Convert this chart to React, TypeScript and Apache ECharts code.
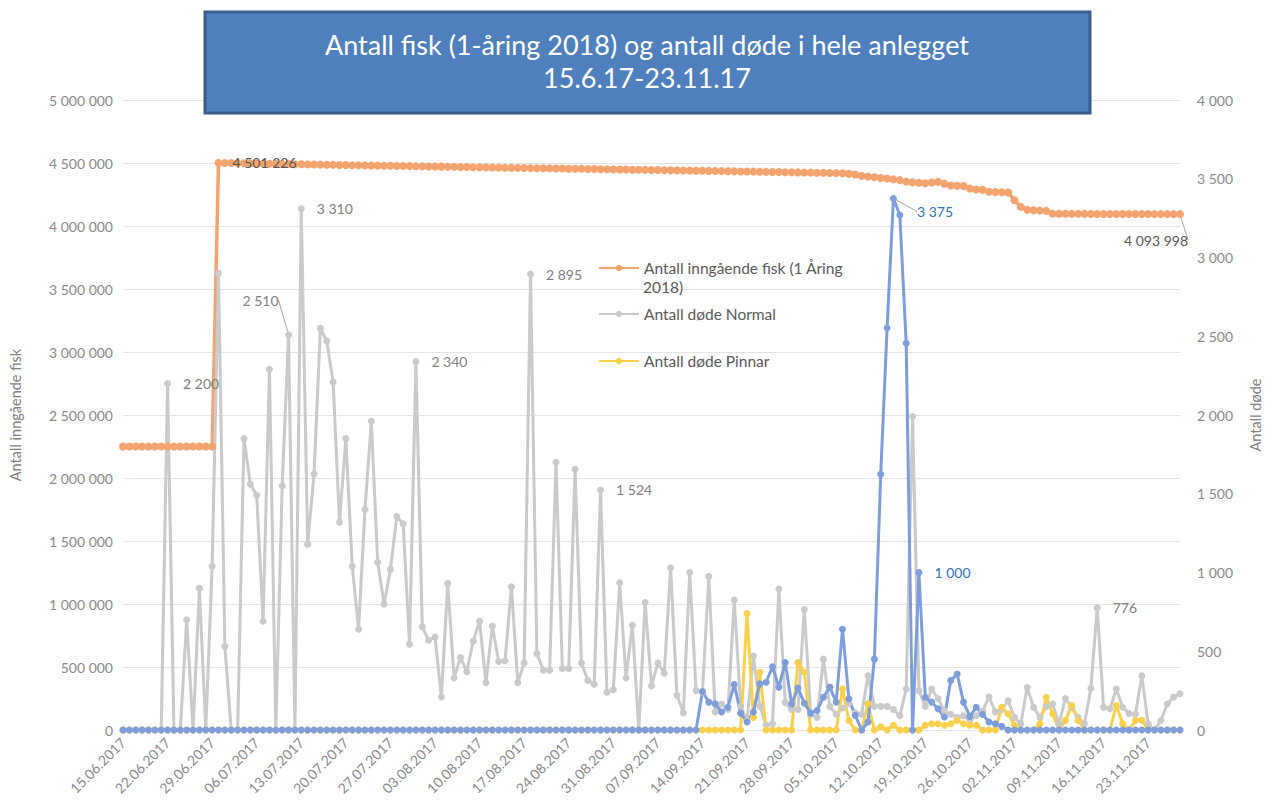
import React, { useEffect, useRef } from "react";
import * as echarts from "echarts";

// ---------- data ----------
const START_YEAR = 2017;
const START_MONTH = 5; // June (0-based)
const START_DAY = 15;
const DAY_COUNT = 167;

const TITLE_LINE_1 = "Antall fisk (1-åring 2018) og antall døde i hele anlegget";
const TITLE_LINE_2 = "15.6.17-23.11.17";
const NAME_FISH = "Antall inngående fisk (1 Åring 2018)";
const NAME_NORMAL = "Antall døde Normal";
const NAME_PINNAR = "Antall døde Pinnar";
const NAME_OTHER = "Antall døde";
const LEFT_AXIS_NAME = "Antall inngående fisk";
const RIGHT_AXIS_NAME = "Antall døde";

// Antall inngående fisk (left axis)
const fishCount: number[] = [
  2250000, 2250000, 2250000, 2250000, 2250000, 2250000, 2250000, 2250000, 2250000, 2250000,
  2250000, 2250000, 2250000, 2250000, 2250000, 4501226, 4500200, 4499300, 4498500, 4497600,
  4496800, 4495900, 4495000, 4494100, 4493300, 4492400, 4491500, 4490700, 4489800, 4488900,
  4488000, 4487200, 4486300, 4485400, 4484600, 4483700, 4482800, 4481900, 4481100, 4480200,
  4479300, 4478400, 4477600, 4476700, 4475900, 4475100, 4474200, 4473400, 4472600, 4471800,
  4470900, 4470100, 4469300, 4468500, 4467600, 4466800, 4466000, 4465200, 4464300, 4463500,
  4462700, 4461900, 4461100, 4460400, 4459600, 4458800, 4458000, 4457200, 4456400, 4455700,
  4454900, 4454100, 4453300, 4452500, 4451700, 4451000, 4450200, 4449400, 4448600, 4447800,
  4447000, 4446200, 4445400, 4444600, 4443800, 4443000, 4442100, 4441300, 4440500, 4439700,
  4438800, 4438000, 4437200, 4436300, 4435500, 4434700, 4433800, 4433000, 4432100, 4431300,
  4430400, 4429600, 4428700, 4427900, 4427000, 4426100, 4425300, 4424400, 4423500, 4422600,
  4421700, 4420800, 4419900, 4418000, 4414000, 4409000, 4398000, 4392000, 4388000, 4381000,
  4377000, 4370000, 4364000, 4352000, 4346000, 4343000, 4339000, 4345000, 4350000, 4336000,
  4322000, 4320000, 4318000, 4298000, 4290000, 4287000, 4272000, 4270000, 4268000, 4266000,
  4205000, 4152000, 4128000, 4125000, 4122000, 4120000, 4098000, 4097000, 4096800, 4096500,
  4096300, 4096000, 4095800, 4095600, 4095400, 4095200, 4095000, 4094900, 4094800, 4094700,
  4094600, 4094500, 4094400, 4094300, 4094200, 4094100, 4093998,
];

// Antall døde Normal (right axis)
const deadNormal: number[] = [
  0, 0, 0, 0, 0, 0, 0, 2200, 0, 0,
  700, 0, 900, 0, 1040, 2900, 530, 0, 0, 1850,
  1560, 1490, 690, 2290, 0, 1550, 2510, 0, 3310, 1180,
  1625, 2550, 2470, 2210, 1320, 1850, 1040, 640, 1400, 1960,
  1065, 800, 1020, 1355, 1310, 545, 2340, 655, 570, 590,
  210, 930, 330, 460, 370, 565, 690, 300, 660, 435,
  440, 910, 300, 425, 2895, 485, 380, 380, 1700, 390,
  390, 1655, 425, 315, 290, 1524, 240, 255, 935, 330,
  665, 0, 810, 280, 425, 360, 1030, 220, 110, 1000,
  250, 240, 975, 115, 165, 130, 825, 150, 60, 470,
  150, 30, 40, 895, 175, 130, 130, 765, 100, 80,
  450, 150, 100, 140, 170, 110, 100, 345, 150, 150,
  150, 130, 90, 260, 1990, 250, 150, 260, 200, 120,
  100, 80, 90, 60, 90, 120, 210, 115, 130, 185,
  80, 40, 270, 145, 80, 150, 165, 40, 200, 145,
  80, 40, 265, 776, 145, 135, 260, 145, 105, 100,
  345, 40, 0, 60, 165, 210, 230,
];

// Antall døde Pinnar (right axis)
const deadPinnar: number[] = [
  0, 0, 0, 0, 0, 0, 0, 0, 0, 0,
  0, 0, 0, 0, 0, 0, 0, 0, 0, 0,
  0, 0, 0, 0, 0, 0, 0, 0, 0, 0,
  0, 0, 0, 0, 0, 0, 0, 0, 0, 0,
  0, 0, 0, 0, 0, 0, 0, 0, 0, 0,
  0, 0, 0, 0, 0, 0, 0, 0, 0, 0,
  0, 0, 0, 0, 0, 0, 0, 0, 0, 0,
  0, 0, 0, 0, 0, 0, 0, 0, 0, 0,
  0, 0, 0, 0, 0, 0, 0, 0, 0, 0,
  0, 0, 0, 0, 0, 0, 0, 0, 739, 80,
  366, 0, 0, 0, 0, 0, 429, 366, 0, 0,
  0, 0, 0, 261, 60, 0, 0, 166, 0, 20,
  0, 30, 0, 0, 0, 0, 30, 40, 40, 30,
  40, 61, 40, 30, 30, 0, 0, 0, 145, 103,
  30, 0, 0, 0, 40, 208, 103, 0, 61, 156,
  61, 0, 0, 0, 0, 0, 156, 40, 0, 61,
  61, 0, 0, 0, 0, 0, 0,
];

// Antall døde (blue series, right axis)
const deadOther: number[] = [
  0, 0, 0, 0, 0, 0, 0, 0, 0, 0,
  0, 0, 0, 0, 0, 0, 0, 0, 0, 0,
  0, 0, 0, 0, 0, 0, 0, 0, 0, 0,
  0, 0, 0, 0, 0, 0, 0, 0, 0, 0,
  0, 0, 0, 0, 0, 0, 0, 0, 0, 0,
  0, 0, 0, 0, 0, 0, 0, 0, 0, 0,
  0, 0, 0, 0, 0, 0, 0, 0, 0, 0,
  0, 0, 0, 0, 0, 0, 0, 0, 0, 0,
  0, 0, 0, 0, 0, 0, 0, 0, 0, 0,
  0, 244, 177, 166, 114, 145, 288, 107, 51, 114,
  293, 303, 402, 272, 429, 166, 267, 170, 107, 124,
  208, 272, 177, 640, 198, 93, 0, 51, 450, 1624,
  2552, 3375, 3270, 2456, 0, 1000, 208, 177, 135, 82,
  314, 356, 177, 86, 145, 99, 51, 40, 23, 0,
  0, 0, 0, 0, 0, 0, 0, 0, 0, 0,
  0, 0, 0, 0, 0, 0, 0, 0, 0, 0,
  0, 0, 0, 0, 0, 0, 0,
];

// data-label indices
const FISH_LABELS = [15, 166];
const NORMAL_LABELS = [7, 26, 28, 46, 64, 75, 153];
const OTHER_LABELS = [121, 125];

// ---------- helpers ----------
function buildDates(): string[] {
  const out: string[] = [];
  for (let i = 0; i < DAY_COUNT; i++) {
    const d = new Date(Date.UTC(START_YEAR, START_MONTH, START_DAY + i));
    const dd = String(d.getUTCDate()).padStart(2, "0");
    const mm = String(d.getUTCMonth() + 1).padStart(2, "0");
    out.push(`${dd}.${mm}.${d.getUTCFullYear()}`);
  }
  return out;
}

const fmt = (n: number) => String(Math.round(n)).replace(/\B(?=(\d{3})+(?!\d))/g, " ");

const FONT = "Lato";
const ORANGE = "#F3A46E";
const GRAY = "#CACACA";
const YELLOW = "#F9D04C";
const BLUE = "#7E9EDB";

function withLabels(values: number[], idx: number[], labelStyle: any, extra: Record<number, any> = {}) {
  return values.map((v, i) => {
    if (!idx.includes(i)) return v;
    const ex = extra[i] || {};
    const { __line, ...rest } = ex;
    return {
      value: v,
      label: { show: true, ...labelStyle, ...rest },
      ...(__line ? { labelLine: { show: true, lineStyle: { color: "#a6a6a6", width: 1 } } } : {}),
    };
  });
}

export default function App() {
  const ref = useRef<HTMLDivElement>(null);

  useEffect(() => {
    if (!ref.current) return;
    const chart = echarts.init(ref.current, undefined, { renderer: "svg", width: 1271, height: 812 });
    const dates = buildDates();

    const baseLabel = {
      position: "right",
      distance: 12,
      fontFamily: FONT,
      fontSize: 14,
      color: "#808080",
      formatter: (p: any) => fmt(p.value),
    };

    const lineCommon = {
      type: "line",
      symbol: "circle",
      symbolSize: 7,
      showSymbol: true,
      showAllSymbol: true,
      lineStyle: { width: 3 },
      emphasis: { disabled: true },
      animation: false,
    };

    const legendText = { color: "#595959", fontSize: 15.5, fontFamily: FONT };

    const option: any = {
      animation: false,
      backgroundColor: "#ffffff",
      textStyle: { fontFamily: FONT },
      grid: { left: 118, right: 71, top: 100, bottom: 82, containLabel: false },
      legend: [
        {
          data: [NAME_FISH],
          left: 598,
          top: 260,
          padding: 0,
          itemWidth: 40,
          itemHeight: 8,
          formatter: () => "Antall inngående fisk (1 Åring",
          textStyle: legendText,
        },
        {
          data: [NAME_NORMAL],
          left: 598,
          top: 306,
          padding: 0,
          itemWidth: 40,
          itemHeight: 8,
          textStyle: legendText,
        },
        {
          data: [NAME_PINNAR],
          left: 598,
          top: 353,
          padding: 0,
          itemWidth: 40,
          itemHeight: 8,
          textStyle: legendText,
        },
      ],
      xAxis: {
        type: "category",
        data: dates,
        boundaryGap: false,
        axisLine: { show: false },
        axisTick: { show: false },
        axisLabel: {
          interval: 6,
          rotate: 45,
          margin: 10,
          color: "#8a8a8a",
          fontSize: 14,
          fontFamily: FONT,
        },
        splitLine: { show: false },
      },
      yAxis: [
        {
          type: "value",
          min: 0,
          max: 5000000,
          interval: 500000,
          position: "left",
          name: LEFT_AXIS_NAME,
          nameLocation: "middle",
          nameGap: 100,
          nameRotate: 90,
          nameTextStyle: { color: "#7f7f7f", fontSize: 14.5, fontFamily: FONT },
          axisLine: { show: false },
          axisTick: { show: false },
          axisLabel: {
            formatter: (v: number) => fmt(v),
            color: "#8a8a8a",
            fontSize: 14,
            fontFamily: FONT,
            margin: 10,
          },
          splitLine: { show: true, lineStyle: { color: "#e4e4e4", width: 1 } },
        },
        {
          type: "value",
          min: 0,
          max: 4000,
          interval: 500,
          position: "right",
          name: RIGHT_AXIS_NAME,
          nameLocation: "middle",
          nameGap: 68,
          nameRotate: 90,
          nameTextStyle: { color: "#7f7f7f", fontSize: 14.5, fontFamily: FONT },
          axisLine: { show: false },
          axisTick: { show: false },
          axisLabel: {
            formatter: (v: number) => fmt(v),
            color: "#8a8a8a",
            fontSize: 14,
            fontFamily: FONT,
            margin: 17,
          },
          splitLine: { show: false },
        },
      ],
      series: [
        {
          ...lineCommon,
          name: NAME_FISH,
          yAxisIndex: 0,
          color: ORANGE,
          symbolSize: 8,
          itemStyle: { color: ORANGE },
          lineStyle: { width: 3.5, color: ORANGE },
          data: withLabels(fishCount, FISH_LABELS, { ...baseLabel, color: "#555555", distance: 10 }, {
            166: { position: "bottom", __line: true },
          }),
          labelLayout: (p: any) => (p.dataIndex === 166 ? { dx: -24, dy: 5 } : {}),
        },
        {
          ...lineCommon,
          name: NAME_NORMAL,
          yAxisIndex: 1,
          color: GRAY,
          itemStyle: { color: GRAY },
          lineStyle: { width: 3, color: GRAY },
          data: withLabels(deadNormal, NORMAL_LABELS, baseLabel, {
            26: { position: "top", __line: true },
          }),
          labelLayout: (p: any) => (p.dataIndex === 26 ? { dx: -28, dy: -12 } : {}),
        },
        {
          ...lineCommon,
          name: NAME_PINNAR,
          yAxisIndex: 1,
          color: YELLOW,
          itemStyle: { color: YELLOW },
          lineStyle: { width: 3, color: YELLOW },
          data: deadPinnar,
        },
        {
          ...lineCommon,
          name: NAME_OTHER,
          yAxisIndex: 1,
          color: BLUE,
          itemStyle: { color: BLUE },
          lineStyle: { width: 3, color: BLUE },
          data: withLabels(deadOther, OTHER_LABELS, { ...baseLabel, color: "#2E75B6" }, {
            121: { __line: true },
          }),
          labelLayout: (p: any) => (p.dataIndex === 121 ? { dx: 8, dy: 13 } : {}),
        },
      ],
      graphic: [
        {
          type: "rect",
          shape: { x: 205, y: 12, width: 885, height: 101 },
          style: { fill: "#4F80BD", stroke: "#3A5E8C", lineWidth: 3 },
          z: 10,
        },
        {
          type: "text",
          x: 647,
          y: 61,
          z: 11,
          style: {
            text: TITLE_LINE_1 + "\n" + TITLE_LINE_2,
            fill: "#ffffff",
            font: `27px ${FONT}`,
            lineHeight: 33,
            align: "center",
            verticalAlign: "middle",
          },
        },
        {
          type: "text",
          x: 643,
          y: 287,
          z: 11,
          style: {
            text: "2018)",
            fill: "#595959",
            font: `15.5px ${FONT}`,
            align: "left",
            verticalAlign: "middle",
          },
        },
      ],
    };

    chart.setOption(option);
    return () => chart.dispose();
  }, []);

  return (
    <div
      ref={ref}
      style={{ position: "fixed", left: 0, top: 0, width: 1271, height: 812, background: "#fff" }}
    />
  );
}
